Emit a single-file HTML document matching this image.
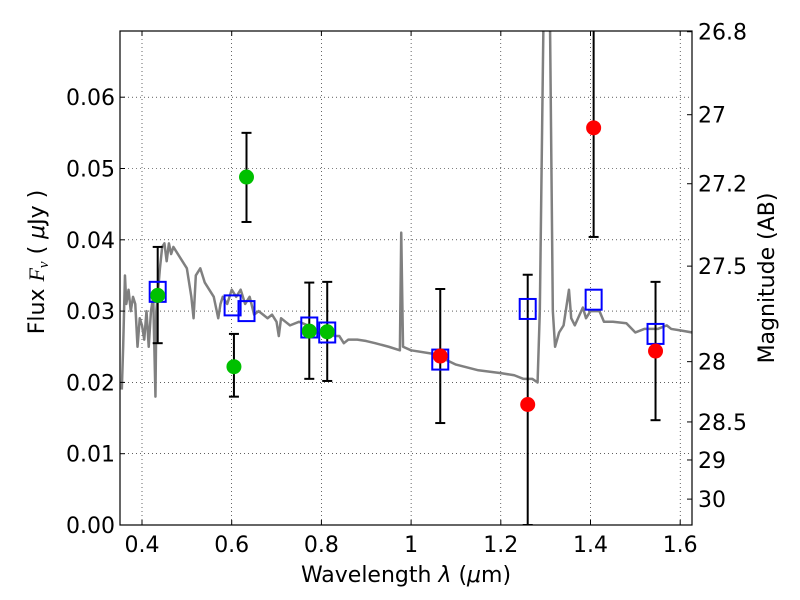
<!DOCTYPE html>
<html><head><meta charset="utf-8"><style>
body{margin:0;background:#fff}
svg{display:block;font-family:"DejaVu Sans","Liberation Sans",sans-serif}
</style></head><body>
<svg id="chart" width="800" height="600">
<defs><clipPath id="clip"><rect x="120" y="31" width="572" height="494"/></clipPath></defs>
<rect x="0" y="0" width="800" height="600" fill="#fff"/>
<g id="grid"></g>
<g id="spec" clip-path="url(#clip)"></g>
<g id="marks" clip-path="url(#clip)"></g>
<rect x="120" y="31" width="572" height="494" fill="none" stroke="#000" stroke-width="1.2"/>
<g id="axes"></g>
<text x="406" y="582" font-size="22" text-anchor="middle">Wavelength  <tspan font-style="italic">λ</tspan> (<tspan font-style="italic">μ</tspan>m)</text>
<text transform="translate(44,262) rotate(-90)" font-size="22" text-anchor="middle">Flux  <tspan font-style="italic" font-family="Liberation Serif">F<tspan font-size="15" dy="4">ν</tspan></tspan><tspan dy="-4">  (  </tspan><tspan font-style="italic">μ</tspan>Jy )</text>
<text transform="translate(774,278) rotate(-90)" font-size="22" text-anchor="middle">Magnitude (AB)</text>
</svg>
<script>
const xTicks=[0.4,0.6,0.8,1.0,1.2,1.4,1.6];
const xTickLabels=["0.4","0.6","0.8","1","1.2","1.4","1.6"];
const yTicks=[0,0.01,0.02,0.03,0.04,0.05,0.06];
const yTickLabels=["0.00","0.01","0.02","0.03","0.04","0.05","0.06"];
const magTicks=[26.8,27,27.2,27.5,28,28.5,29,30];
const magLabels=["26.8","27","27.2","27.5","28","28.5","29","30"];
const obsLam=[0.435,0.605,0.633,0.773,0.813,1.065,1.26,1.407,1.545];
const obsFlux=[0.0322,0.0222,0.0488,0.0272,0.0271,0.0237,0.0169,0.0557,0.0244];
const obsLo=[0.0255,0.018,0.0425,0.0205,0.0202,0.0143,0.0,0.0404,0.0147];
const obsHi=[0.039,0.0268,0.055,0.034,0.0341,0.0331,0.0351,0.08,0.0341];
const obsColor=["#00c000","#00c000","#00c000","#00c000","#00c000","#ff0000","#ff0000","#ff0000","#ff0000"];
const modLam=[0.435,0.602,0.633,0.773,0.813,1.065,1.26,1.407,1.545];
const modFlux=[0.0327,0.0308,0.0300,0.0277,0.0270,0.0232,0.0303,0.0316,0.0268];
const specLam=[0.355,0.358,0.362,0.365,0.37,0.375,0.38,0.385,0.39,0.395,0.40,0.405,0.41,0.415,0.42,0.425,0.43,0.432,0.44,0.445,0.45,0.455,0.46,0.465,0.47,0.48,0.49,0.50,0.51,0.515,0.52,0.53,0.54,0.55,0.56,0.57,0.575,0.58,0.59,0.60,0.61,0.62,0.63,0.64,0.65,0.66,0.67,0.68,0.69,0.70,0.705,0.71,0.72,0.73,0.75,0.77,0.79,0.81,0.83,0.84,0.85,0.86,0.88,0.90,0.92,0.95,0.975,0.978,0.982,1.0,1.05,1.1,1.15,1.2,1.23,1.25,1.27,1.282,1.287,1.296,1.309,1.316,1.321,1.33,1.34,1.352,1.357,1.365,1.383,1.39,1.40,1.42,1.43,1.45,1.48,1.5,1.52,1.55,1.57,1.58,1.6,1.627];
const specFlux=[0.019,0.025,0.035,0.031,0.033,0.030,0.032,0.031,0.025,0.029,0.028,0.026,0.030,0.025,0.030,0.032,0.018,0.030,0.036,0.039,0.0395,0.037,0.0395,0.038,0.039,0.038,0.037,0.036,0.032,0.029,0.035,0.036,0.034,0.033,0.032,0.029,0.031,0.032,0.031,0.033,0.032,0.033,0.031,0.032,0.0295,0.030,0.0295,0.029,0.0295,0.0285,0.0265,0.029,0.0285,0.028,0.0285,0.028,0.027,0.027,0.0265,0.0265,0.0255,0.026,0.026,0.0258,0.0255,0.025,0.0245,0.041,0.025,0.0245,0.024,0.0225,0.0217,0.0213,0.021,0.0205,0.0205,0.020,0.03,0.075,0.075,0.03,0.025,0.027,0.028,0.033,0.029,0.028,0.0305,0.029,0.030,0.030,0.0285,0.0285,0.0283,0.027,0.0275,0.0275,0.028,0.0275,0.0273,0.027];
const NS="http://www.w3.org/2000/svg";
function xs(v){return 142+(v-0.4)*448.5;}
function ys(v){return 525-v*7130;}
function magY(m){return ys(Math.pow(10,(23.9-m)/2.5));}
function mk(tag,attrs,parent){const e=document.createElementNS(NS,tag);for(const k in attrs)e.setAttribute(k,attrs[k]);parent.appendChild(e);return e;}
const grid=document.getElementById('grid'),axes=document.getElementById('axes'),spec=document.getElementById('spec'),marks=document.getElementById('marks');
xTicks.forEach((t,i)=>{
  const g=mk('line',{x1:xs(t),x2:xs(t),y1:31,y2:525,stroke:'#000','stroke-width':0.6,'stroke-dasharray':'1,3'},grid);
  
  
  mk('line',{x1:xs(t),x2:xs(t),y1:525,y2:520,stroke:'#000'},axes);
  mk('line',{x1:xs(t),x2:xs(t),y1:31,y2:36,stroke:'#000'},axes);
  const tx=mk('text',{x:xs(t),y:552,'font-size':22,'text-anchor':'middle'},axes);
  tx.textContent=xTickLabels[i];
  
  
});
yTicks.forEach((t,i)=>{
  if(t>0){const g=mk('line',{x1:120,x2:692,y1:ys(t),y2:ys(t),stroke:'#000','stroke-width':0.6,'stroke-dasharray':'1,3'},grid);
  
  }
  mk('line',{x1:120,x2:125,y1:ys(t),y2:ys(t),stroke:'#000'},axes);
  const tx=mk('text',{x:115,y:ys(t)+8,'font-size':22,'text-anchor':'end'},axes);
  tx.textContent=yTickLabels[i];
  
  
});
magTicks.forEach((m,i)=>{
  const y=magY(m);
  mk('line',{x1:687,x2:692,y1:y,y2:y,stroke:'#000'},axes);
  const tx=mk('text',{x:698,y:y+8,'font-size':22},axes);
  tx.textContent=magLabels[i];
  
  
});
const p=mk('polyline',{points:specLam.map((l,i)=>xs(l)+','+ys(specFlux[i])).join(' '),fill:'none',stroke:'#808080','stroke-width':2.5,'stroke-linejoin':'round'},spec);


obsLam.forEach((l,i)=>{
  const x=xs(l);
  const e=mk('line',{x1:x,x2:x,y1:ys(obsLo[i]),y2:ys(obsHi[i]),stroke:'#000','stroke-width':2},marks);
  
  
  mk('line',{x1:x-5,x2:x+5,y1:ys(obsLo[i]),y2:ys(obsLo[i]),stroke:'#000','stroke-width':2},marks);
  mk('line',{x1:x-5,x2:x+5,y1:ys(obsHi[i]),y2:ys(obsHi[i]),stroke:'#000','stroke-width':2},marks);
});
modLam.forEach((l,i)=>{
  const r=mk('rect',{x:xs(l)-8,y:ys(modFlux[i])-10,width:16,height:20,fill:'none',stroke:'#0000ff','stroke-width':2},marks);
  
  
});
obsLam.forEach((l,i)=>{
  const c=mk('circle',{cx:xs(l),cy:ys(obsFlux[i]),r:7.5,fill:obsColor[i]},marks);
  
  
});
</script>
</body></html>
